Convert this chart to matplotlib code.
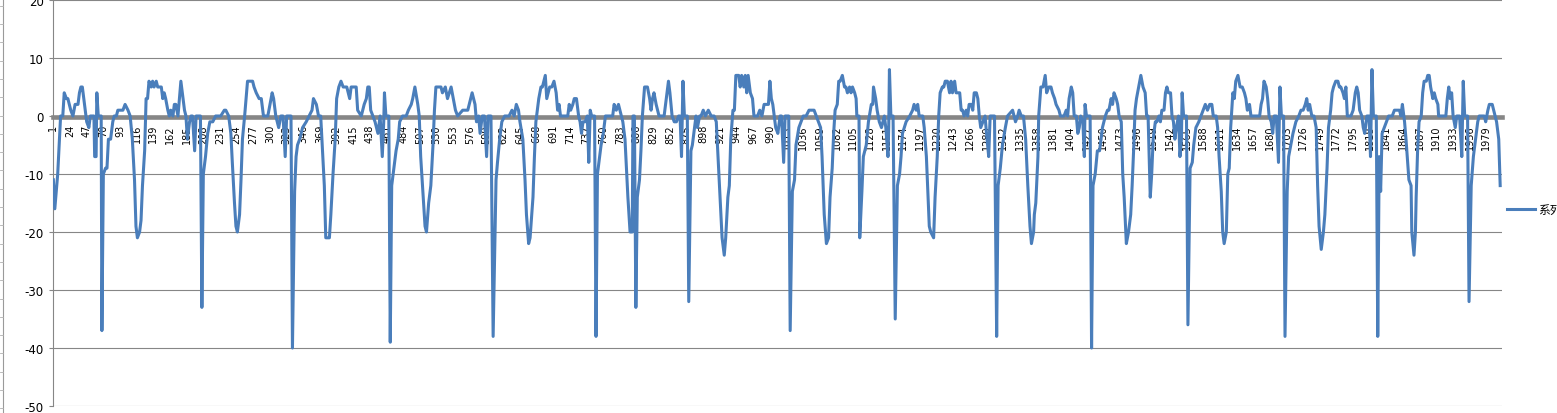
import numpy as np
import matplotlib
matplotlib.use("Agg")
import matplotlib.pyplot as plt
from matplotlib.lines import Line2D

plt.rcParams['font.family'] = ['DejaVu Sans', 'Noto Sans CJK SC']
plt.rcParams['axes.unicode_minus'] = False

# categories 1..2000, labelled every 23rd one
n_cat = 2000
categories = np.arange(1, n_cat + 1)
tick_cats = categories[::23]
tick_labels = [str(c) for c in tick_cats]

series_name = "系列1"

# points (category number, value)
pt_cat = [
    1, 3, 5, 7, 11, 14, 16, 19, 21, 23, 25, 28, 31, 35, 37, 39, 41, 45, 47, 50,
    52, 57, 58, 60, 61, 63, 67, 68, 70, 73, 75, 77, 80, 83, 85, 88, 90, 91, 94, 97,
    100, 104, 107, 110, 113, 115, 117, 120, 122, 124, 127, 129, 131, 133, 136, 138, 140, 143, 145, 150,
    152, 154, 156, 159, 161, 163, 166, 168, 170, 173, 175, 177, 180, 182, 184, 186, 189, 191, 193, 196,
    198, 204, 206, 208, 211, 214, 217, 221, 225, 232, 237, 239, 243, 246, 248, 251, 253, 255, 258, 260,
    262, 265, 267, 269, 272, 276, 278, 281, 285, 288, 291, 297, 300, 303, 305, 308, 312, 315, 318, 321,
    323, 329, 331, 334, 336, 338, 341, 345, 350, 354, 358, 360, 364, 367, 370, 373, 375, 377, 382, 384,
    387, 390, 392, 395, 398, 401, 406, 410, 412, 415, 419, 421, 426, 428, 430, 433, 435, 437, 439, 442,
    445, 449, 452, 455, 457, 458, 460, 464, 466, 468, 472, 474, 477, 479, 483, 488, 491, 495, 497, 500,
    504, 506, 508, 511, 514, 516, 519, 522, 525, 527, 529, 531, 536, 538, 542, 545, 550, 553, 556, 559,
    566, 573, 575, 579, 581, 583, 585, 588, 590, 593, 596, 599, 601, 605, 608, 612, 614, 617, 620, 624,
    630, 634, 637, 640, 643, 645, 649, 652, 654, 657, 659, 663, 665, 667, 671, 674, 676, 680, 682, 686,
    689, 692, 695, 697, 699, 701, 711, 713, 715, 718, 720, 723, 726, 728, 730, 732, 735, 738, 740, 742,
    744, 748, 750, 752, 755, 757, 760, 763, 773, 775, 778, 781, 783, 787, 790, 794, 797, 800, 801, 803,
    805, 807, 810, 812, 814, 817, 821, 824, 826, 828, 830, 833, 835, 837, 844, 847, 850, 852, 855, 858,
    861, 864, 866, 868, 870, 872, 876, 878, 881, 883, 886, 888, 890, 893, 895, 898, 901, 905, 909, 913,
    916, 920, 924, 927, 929, 932, 934, 936, 939, 941, 943, 947, 949, 951, 954, 956, 958, 960, 963, 966,
    968, 973, 976, 979, 982, 986, 988, 990, 992, 994, 996, 998, 1001, 1004, 1006, 1009, 1011, 1016, 1018, 1021,
    1024, 1026, 1030, 1033, 1036, 1040, 1044, 1051, 1054, 1057, 1060, 1062, 1065, 1068, 1071, 1073, 1076, 1078, 1080, 1083,
    1085, 1087, 1090, 1093, 1095, 1097, 1100, 1102, 1104, 1107, 1109, 1110, 1113, 1114, 1117, 1119, 1123, 1126, 1130, 1132,
    1133, 1136, 1138, 1141, 1144, 1148, 1150, 1153, 1154, 1155, 1157, 1160, 1163, 1166, 1169, 1171, 1173, 1178, 1183, 1187,
    1189, 1192, 1194, 1196, 1201, 1203, 1206, 1208, 1210, 1212, 1216, 1218, 1221, 1223, 1225, 1228, 1230, 1232, 1235, 1238,
    1240, 1242, 1245, 1247, 1252, 1254, 1256, 1258, 1261, 1263, 1265, 1268, 1270, 1272, 1275, 1277, 1279, 1281, 1284, 1287,
    1289, 1292, 1294, 1300, 1303, 1305, 1308, 1311, 1315, 1318, 1325, 1329, 1332, 1334, 1337, 1340, 1343, 1346, 1349, 1351,
    1354, 1355, 1357, 1360, 1361, 1364, 1367, 1370, 1372, 1375, 1378, 1380, 1383, 1385, 1389, 1391, 1396, 1399, 1401, 1403,
    1406, 1408, 1410, 1413, 1415, 1417, 1419, 1422, 1424, 1425, 1427, 1432, 1434, 1436, 1439, 1442, 1445, 1447, 1449, 1453,
    1456, 1458, 1461, 1463, 1465, 1468, 1470, 1472, 1475, 1477, 1479, 1482, 1485, 1488, 1490, 1492, 1494, 1496, 1499, 1502,
    1505, 1508, 1510, 1512, 1515, 1517, 1519, 1522, 1524, 1527, 1529, 1531, 1534, 1536, 1538, 1540, 1543, 1545, 1547, 1549,
    1551, 1554, 1556, 1558, 1559, 1561, 1565, 1567, 1570, 1573, 1575, 1578, 1582, 1585, 1588, 1591, 1594, 1597, 1600, 1602,
    1606, 1608, 1610, 1613, 1615, 1617, 1620, 1622, 1624, 1626, 1629, 1631, 1633, 1636, 1639, 1642, 1645, 1647, 1649, 1652,
    1654, 1666, 1668, 1670, 1672, 1675, 1677, 1679, 1682, 1684, 1686, 1689, 1692, 1694, 1696, 1699, 1701, 1704, 1706, 1709,
    1712, 1716, 1720, 1723, 1726, 1729, 1731, 1733, 1735, 1738, 1741, 1744, 1746, 1748, 1751, 1754, 1756, 1759, 1761, 1764,
    1766, 1768, 1771, 1774, 1776, 1778, 1781, 1783, 1785, 1787, 1792, 1795, 1798, 1800, 1802, 1804, 1807, 1809, 1811, 1814,
    1817, 1819, 1821, 1823, 1827, 1829, 1831, 1833, 1835, 1838, 1841, 1844, 1849, 1852, 1856, 1859, 1861, 1863, 1866, 1868,
    1872, 1875, 1876, 1879, 1881, 1882, 1884, 1886, 1889, 1891, 1893, 1896, 1898, 1900, 1902, 1905, 1907, 1909, 1912, 1913,
    1923, 1925, 1927, 1929, 1931, 1933, 1936, 1938, 1942, 1945, 1947, 1949, 1953, 1955, 1958, 1961, 1964, 1967, 1969, 1974,
    1976, 1978, 1981, 1983, 1987, 1989, 1991, 1993, 1996, 1998,
]
pt_val = [
    -11, -16, -13, -10, 0, 0, 4, 3, 3, 2, 1, 0, 2, 2, 4, 5, 5, 1, -1, -2,
    0, 0, -7, -7, 4, 0, 0, -37, -10, -9, -9, -4, -4, -1, 0, 0, 1, 1, 1, 1,
    2, 1, 0, -4, -11, -19, -21, -20, -18, -12, -6, 3, 3, 6, 5, 6, 5, 6, 5, 5,
    3, 4, 3, 1, 0, 1, 0, 2, 2, 0, 3, 6, 3, 1, 0, -4, -1, 0, 0, -6,
    0, 0, -33, -10, -7, -3, -1, -1, 0, 0, 1, 1, 0, -3, -8, -15, -19, -20, -17, -11,
    -4, 0, 3, 6, 6, 6, 5, 4, 3, 3, 0, 0, 2, 4, 3, 0, -2, 0, 0, -7,
    0, 0, -40, -13, -7, -5, -4, -2, -1, 0, 1, 3, 2, 0, 0, -7, -12, -21, -21, -17,
    -10, -4, 3, 5, 6, 5, 5, 3, 5, 5, 5, 1, 0, 1, 2, 3, 5, 5, 1, 0,
    -1, -3, 0, -7, -1, 4, 0, 0, -39, -12, -8, -6, -4, -1, 0, 0, 1, 2, 3, 5,
    2, 0, -7, -13, -19, -20, -15, -12, -5, 1, 5, 5, 5, 4, 5, 3, 5, 3, 1, 0,
    1, 1, 2, 4, 3, 2, -1, 0, -3, 0, 0, -7, 0, 0, -38, -11, -8, -4, -1, 0,
    0, 1, 0, 2, 1, -1, -4, -11, -17, -22, -21, -14, -7, -1, 3, 5, 5, 7, 3, 5,
    5, 6, 4, 1, 2, 0, 0, 2, 1, 2, 3, 3, 0, -1, -3, -1, -1, 0, -8, 1,
    0, 0, -38, -10, -7, -5, -3, 0, 0, 2, 1, 2, 1, -1, -4, -14, -20, -20, 0, 0,
    -33, -14, -11, -6, 0, 5, 5, 3, 1, 3, 4, 2, 1, 0, 0, 3, 6, 4, 0, -1,
    -1, 0, 0, -7, 6, 0, 0, -32, -6, -5, -2, 0, -2, 0, 0, 1, 0, 1, 0, 0,
    -1, -11, -21, -24, -21, -14, -12, -4, 1, 1, 7, 7, 5, 7, 5, 7, 4, 7, 4, 3,
    0, 0, 1, 0, 2, 2, 2, 6, 3, 2, 0, -2, -3, 0, 0, -8, 0, 0, -37, -13,
    -11, -5, -2, -1, 0, 0, 1, 1, 0, -1, -2, -7, -17, -22, -21, -14, -9, -3, 1, 2,
    6, 6, 7, 5, 5, 4, 5, 4, 5, 4, 3, 0, 0, -21, -13, -7, -5, -1, 2, 2,
    5, 3, 1, -1, -2, 0, -2, -7, -2, 8, 0, 0, -35, -12, -10, -7, -3, -1, 0, 1,
    2, 1, 2, 0, 0, -2, -7, -13, -19, -20, -21, -14, -7, 0, 4, 5, 5, 6, 6, 4,
    6, 4, 6, 4, 4, 1, 1, 0, 1, 0, 2, 2, 1, 4, 4, 3, 0, -2, -1, 0,
    -3, -7, 0, 0, -38, -12, -9, -5, -2, 0, 1, -1, 0, 1, 0, 0, -4, -12, -19, -22,
    -20, -17, -15, -7, 0, 5, 5, 7, 4, 5, 5, 4, 3, 2, 1, 0, 0, 1, 0, 3,
    5, 4, 0, 0, -3, -2, 0, -1, -7, 2, 0, 0, -40, -12, -10, -6, -6, -4, -2, 0,
    1, 1, 3, 2, 4, 3, 2, 0, -1, -10, -14, -22, -20, -17, -12, -6, 1, 3, 5, 7,
    5, 4, 0, 0, -14, -10, -4, -1, -1, 0, -1, 1, 1, 4, 5, 4, 4, 0, -1, -4,
    -2, 0, -7, -4, 4, 0, 0, -36, -9, -8, -5, -2, -1, 0, 1, 2, 1, 2, 2, 0,
    0, -2, -7, -13, -20, -22, -20, -10, -9, -2, 4, 3, 6, 7, 5, 5, 4, 3, 1, 2,
    0, 0, 2, 3, 6, 5, 3, 0, -1, -3, 0, 0, -8, 5, 0, 0, -38, -13, -7, -5,
    -3, -1, 0, 1, 1, 2, 3, 1, 2, 0, 0, -2, -12, -19, -23, -20, -17, -9, -2, 1,
    4, 5, 6, 6, 5, 5, 4, 3, 5, 0, 0, 1, 4, 5, 4, 1, 0, -2, -3, 0,
    0, -7, 8, 0, 0, -38, -7, -13, -3, -2, -1, 0, 0, 1, 1, 1, 0, 2, -1, -4,
    -11, -12, -20, -24, -20, -14, -6, -1, 0, 4, 6, 6, 7, 7, 5, 3, 4, 3, 2, 0,
    0, 3, 5, 3, 4, 0, -2, 0, 0, -7, 6, 0, 0, -32, -12, -7, -4, -1, 0, 0,
    0, -1, 1, 2, 2, 1, 0, -1, -4, -12,
]

fig = plt.figure(figsize=(15.57, 4.14), dpi=100)
ax = fig.add_axes([53 / 1557, 7 / 414, 1449 / 1557, 406 / 414])

grid_col = '#868686'
ax.set_ylim(-50, 20)
ax.set_xlim(0.5, n_cat + 0.5)
ax.set_yticks(np.arange(-50, 21, 10))
ax.yaxis.grid(True, color=grid_col, linewidth=0.8, zorder=0)
ax.set_axisbelow(True)

ax.plot(pt_cat, pt_val, color='#4A7EBB', linewidth=2.2, label=series_name,
        solid_joinstyle='round', zorder=3)

# category axis sits at zero as a thick grey bar
for s in ['top', 'right']:
    ax.spines[s].set_visible(False)
ax.spines['bottom'].set_position(('data', -0.2))
ax.spines['bottom'].set_color(grid_col)
ax.spines['bottom'].set_linewidth(3.3)
ax.spines['left'].set_color(grid_col)
ax.spines['left'].set_linewidth(0.8)

ax.set_xticks(tick_cats)
ax.set_xticklabels(tick_labels, rotation=90, fontsize=7, va='top')
ax.tick_params(axis='x', length=0, pad=5)
ax.tick_params(axis='y', length=3, width=0.8, color=grid_col, labelsize=8.5, pad=3.5)

ax.legend(loc='center left', bbox_to_anchor=(1507 / 1557, 1 - 210.7 / 414),
          bbox_transform=fig.transFigure, frameon=False, fontsize=8.5,
          borderpad=0, borderaxespad=0, handlelength=2.4, handletextpad=0.2,
          prop={'family': ['Noto Sans CJK SC', 'DejaVu Sans'], 'size': 8.5})

# edge of the neighbouring sheet ruler on the far left
fig.add_artist(Line2D([2.5 / 1557, 2.5 / 1557], [0, 1], transform=fig.transFigure,
                      color='#9a9a9a', linewidth=0.8))
for yp in np.arange(6.7, 414, 18.3):
    fig.add_artist(Line2D([0, 2.5 / 1557], [1 - yp / 414] * 2, transform=fig.transFigure,
                          color='#b0b0b0', linewidth=0.6))

fig.savefig('out.png', dpi=100)
